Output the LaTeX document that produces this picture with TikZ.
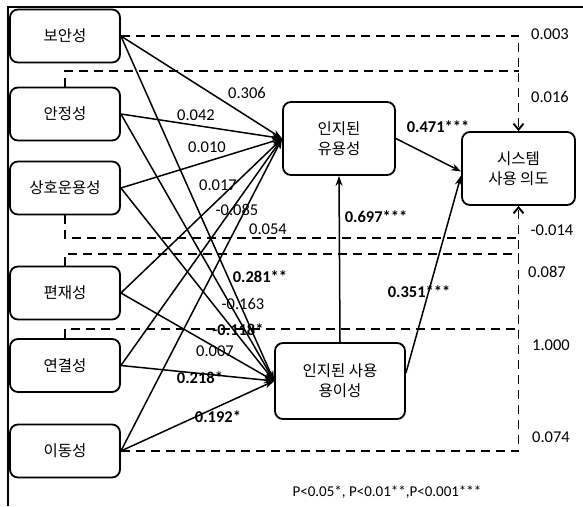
\documentclass[tikz,border=0pt]{standalone}
\usepackage{fontspec}
\setmainfont{Carlito}
\newfontfamily\korfont{Noto Sans CJK KR}
\usetikzlibrary{arrows.meta}
\tikzset{
    x={1pt},
    y={-1pt},
    construct/.style={
        draw, line width={1.8pt},
        rounded corners={8pt},
        minimum width={110},
        minimum height={53},
        inner sep=0pt,
        align=center,
        font={\korfont\fontsize{15.5}{20}\selectfont},
    },
    latent/.style={
        construct,
    },
    path coef/.style={
        line width={1.5pt},
        -{Stealth[length=10pt,width=7pt]},
    },
    direct effect/.style={
        line width={1.9pt},
        dash pattern=on 9pt off 6pt,
    },
    direct tip/.style={
        -{Straight Barb[length=6pt,width=10pt]},
    },
    coef/.style={
        inner sep=0pt,
        font={\fontsize{16.5}{18}\selectfont},
    },
    sig coef/.style={
        coef,
        font={\bfseries\fontsize{16.5}{18}\selectfont},
    },
    note/.style={
        inner sep=0pt,
        font={\fontsize{15}{17}\selectfont},
    },
}

\begin{document}
\begin{tikzpicture}
\useasboundingbox (0,0) rectangle (583,506);
% frame
\draw[line width={1.5pt}] (8,506) -- (8,7) -- (583,7);
% exogenous constructs
\node[construct] (sec) at (65,36) {보안성};
\node[construct] (stab) at (65,114) {안정성};
\node[construct] (inter) at (65,188) {상호운용성};
\node[construct] (ubiq) at (65,293) {편재성};
\node[construct] (conn) at (65,365.5) {연결성};
\node[construct] (mob) at (65,451) {이동성};
% mediators and outcome
\node[latent, minimum width={112}, minimum height={73}] (useful) at (339,138.5) {인지된\\유용성};
\node[latent, minimum width={113}, minimum height={73}] (intent) at (518.5,168.5) {시스템\\사용 의도};
\node[latent, minimum width={130}, minimum height={76}] (ease) at (340,381) {인지된 사용\\용이성};
% direct effects on intention
\draw[direct effect, direct tip] (sec.east) -| (intent.north);
\draw[direct effect] (stab.north) |- (intent.north |- 0,71);
\draw[direct effect] (inter.south) |- (intent.south |- 0,238);
\draw[direct effect] (ubiq.north) |- (intent.south |- 0,254);
\draw[direct effect] (conn.north) |- (intent.south |- 0,329);
\draw[direct effect, direct tip] (mob.east) -| (intent.south);
% paths to perceived usefulness
\draw[path coef] (sec.east) -- (useful.west);
\draw[path coef] (stab.east) -- (useful.west);
\draw[path coef] (inter.east) -- (useful.west);
\draw[path coef] (ubiq.east) -- (useful.west);
\draw[path coef] (conn.east) -- (useful.west);
\draw[path coef] (mob.east) -- (useful.west);
% paths to perceived ease of use
\draw[path coef] (sec.east) -- (ease.west);
\draw[path coef] (stab.east) -- (ease.west);
\draw[path coef] (inter.east) -- (ease.west);
\draw[path coef] (ubiq.east) -- (ease.west);
\draw[path coef] (conn.east) -- (ease.west);
\draw[path coef] (mob.east) -- (ease.west);
% mediator paths
\draw[path coef] (ease.north) -- (useful.south);
\draw[path coef] (useful.east) -- ([yshift=-3pt]intent.west);
\draw[path coef] ([yshift=8pt]ease.east) -- ([yshift=-7pt]intent.west);
% coefficients
\node[coef] (c-sec-u) at (247,93) {0.306};
\node[coef] (c-stab-u) at (196,115) {0.042};
\node[coef] (c-inter-u) at (207,147) {0.010};
\node[coef] (c-ubiq-u) at (218,185) {0.017};
\node[coef] (c-conn-u) at (237,210) {-0.085};
\node[coef] (c-mob-u) at (268,229) {0.054};
\node[sig coef] (c-sec-e) at (260,277) {0.281**};
\node[coef] (c-stab-e) at (243,304) {-0.163};
\node[sig coef] (c-inter-e) at (238,330) {-0.118*};
\node[coef] (c-ubiq-e) at (215,351) {0.007};
\node[sig coef] (c-conn-e) at (200,378) {0.218*};
\node[sig coef] (c-mob-e) at (218,417) {0.192*};
\node[sig coef] (c-useful) at (438,127) {0.471***};
\node[sig coef] (c-ease-u) at (376,217) {0.697***};
\node[sig coef] (c-ease-i) at (419,292) {0.351***};
\node[coef] (d-sec) at (550,34) {0.003};
\node[coef] (d-stab) at (550,97) {0.016};
\node[coef] (d-inter) at (552,230) {-0.014};
\node[coef] (d-ubiq) at (547,272) {0.087};
\node[coef] (d-conn) at (551,345) {1.000};
\node[coef] (d-mob) at (551,437) {0.074};
% significance note
\node[note] (pnote) at (387,492) {P<0.05*, P<0.01**,P<0.001***};
\end{tikzpicture}
\end{document}
